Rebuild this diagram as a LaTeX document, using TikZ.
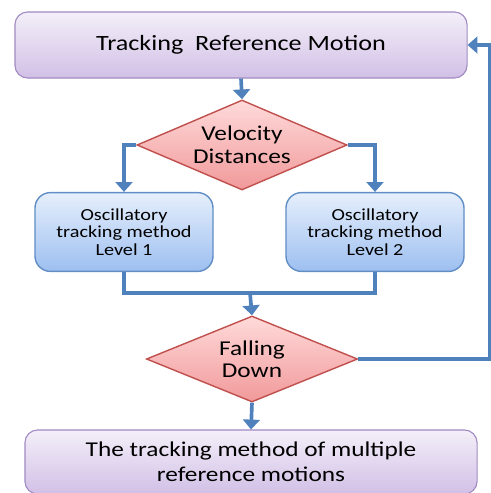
\documentclass[tikz,border=0pt]{standalone}
\usepackage{fontspec}
\setmainfont{Carlito}
\newfontfamily\widefont[FakeStretch=1.2]{Carlito}
\usetikzlibrary{shapes.geometric,arrows.meta}

\definecolor{flowblue}{HTML}{4F81BD}
\definecolor{lilacline}{HTML}{A18BC2}
\definecolor{diaredline}{HTML}{C0504D}
\definecolor{lilac}{HTML}{C6B0E0}
\definecolor{levtop}{HTML}{E6EFFC}
\definecolor{levbot}{HTML}{9DBFF0}
\definecolor{diatop}{HTML}{FFDADA}
\definecolor{diabot}{HTML}{F1999A}

\tikzset{
  flow/.style={draw=flowblue, line width=2.6pt},
  flowarrow/.style={flow, -{Triangle[width=12pt,length=7pt]}},
  headbox/.style={draw=lilacline, line width=0.8pt, rounded corners=9pt,
    top color=lilac!20, bottom color=lilac!80, align=center},
  levelbox/.style={draw=flowblue!90, line width=1pt, rounded corners=11pt,
    top color=levtop, bottom color=levbot, align=center,
    minimum width=4.45cm, minimum height=1.97cm, font=\widefont\fontsize{12}{12.5}\selectfont},
  decision/.style={diamond, aspect=2.33, inner sep=0pt, draw=diaredline, line width=1pt,
    top color=diatop, bottom color=diabot, align=center,
    font=\widefont\fontsize{15}{16}\selectfont}
}

\begin{document}
\begin{tikzpicture}[x=0.025cm, y=-0.025cm]
  \useasboundingbox (0,0) rectangle (491,493);

  \node[headbox, minimum width=11.3cm, minimum height=1.65cm,
        font=\widefont\fontsize{15.5}{18}\selectfont] (top) at (241,45) {Tracking\ \ Reference Motion};
  \node[decision, minimum width=5.25cm, minimum height=2.25cm] (vel) at (242,145) {Velocity\\Distances};
  \node[levelbox] (lvl1) at (124,232) {Oscillatory\\tracking method\\Level 1};
  \node[levelbox] (lvl2) at (375,232) {Oscillatory\\tracking method\\Level 2};
  \coordinate (join) at (250,293);
  \node[decision, minimum width=5.28cm, minimum height=2.15cm] (fall) at (252,359) {Falling\\Down};
  \node[headbox, minimum width=11.3cm, minimum height=1.6cm,
        font=\widefont\fontsize{15}{18}\selectfont] (multi) at (251,462) {The tracking method of multiple\\reference motions};
  \coordinate (back) at (490,200);

  % connectors
  \draw[flowarrow] (top.south) -- (vel.north);
  \draw[flowarrow] (vel.west) -| (lvl1.north);
  \draw[flowarrow] (vel.east) -| (lvl2.north);
  \draw[flow] (lvl1.south) |- (join) -| (lvl2.south);
  \draw[flowarrow] (join) -- (fall.north);
  \draw[flowarrow] (fall.south) -- (multi.north);
  \draw[flowarrow] (fall.east) -| (back) |- (top.east);
\end{tikzpicture}
\end{document}
